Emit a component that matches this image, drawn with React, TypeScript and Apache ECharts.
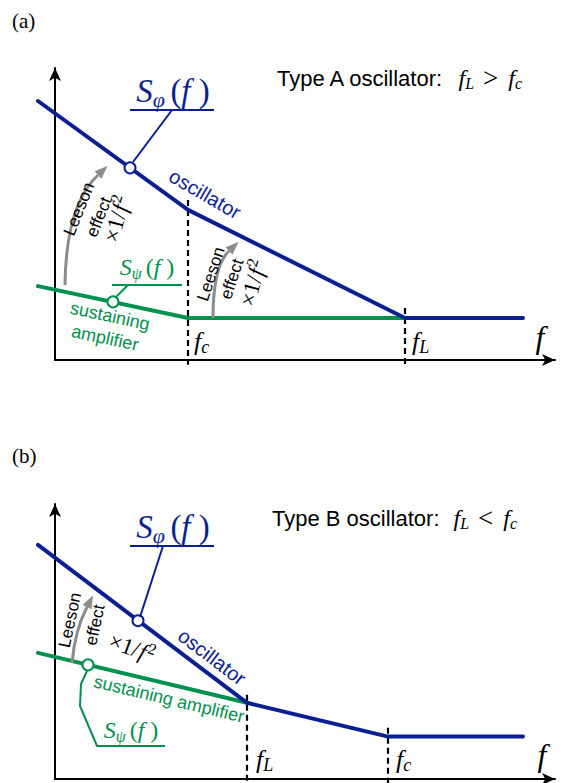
import React, { useEffect, useRef } from 'react';
import * as echarts from 'echarts';

const BLUE = '#0b1f93';
const GREEN = '#00914e';
const GRAY = '#8c8c8c';
const SANS = "'Liberation Sans', Arial, Helvetica, sans-serif";
const SERIF = "'Liberation Serif', 'Times New Roman', serif";

// Axes run over an arbitrary log-frequency (x) and log-PSD (y) scale, 0..100.
// Panel (a): Type A oscillator, f_L > f_c
const oscillatorA = [[-3.4, 88.7], [26.6, 51.4], [70, 14.4], [93.6, 14.4]];
const amplifierA = [[-3.4, 25.3], [26.6, 14.4], [70, 14.4]];
const cornersA = [26.6, 70]; // f_c, f_L
const cornerTopsA = [54.8, 17.8];
const markerOscA = [15, 65.8];
const markerAmpA = [11.6, 19.9];

// Panel (b): Type B oscillator, f_L < f_c
const oscillatorB = [[-3.4, 85.1], [38.4, 27.6], [66.6, 15.3], [93.6, 15.3]];
const amplifierB = [[-3.4, 45.8], [38.4, 27.6]];
const cornersB = [38.4, 66.6]; // f_L, f_c
const cornerTopsB = [30.5, 18.5];
const markerOscB = [16.6, 57.5];
const markerAmpB = [6.6, 41.4];

// curves start a little left of f = 0 and the corner guides dip below the f axis
const xLow = -3.4;
const yLow = -1.6;

function mathRich(size: number, color: string, drop: number) {
  const sub = Math.round(size * 0.68);
  return {
    i: { fontFamily: SERIF, fontStyle: 'italic', fontSize: size, fill: color },
    j: { fontFamily: SERIF, fontStyle: 'italic', fontSize: size, fill: color, padding: [0, 0, 0, 14] },
    r: { fontFamily: SERIF, fontSize: size, fill: color },
    g: { fontFamily: SERIF, fontSize: size + 3, fill: color, padding: [0, 10, 0, 9] },
    s: { fontFamily: SERIF, fontStyle: 'italic', fontSize: sub, fill: color, padding: [drop, 0, 0, 0] },
    n: { fontFamily: SANS, fontSize: 22, fill: '#000' },
  };
}

function txt(x: number, y: number, text: string, style: any, deg = 0, align = 'center') {
  return {
    type: 'text',
    x,
    y,
    rotation: (deg * Math.PI) / 180,
    z: 50,
    silent: true,
    style: { text, align, verticalAlign: 'middle', ...style },
  };
}

function seg(x1: number, y1: number, x2: number, y2: number, color: string, w = 2) {
  return { type: 'line', z: 40, silent: true, shape: { x1, y1, x2, y2 }, style: { stroke: color, lineWidth: w } };
}

function leesonArrow(p0: number[], cp: number[], p2: number[]) {
  const dx = p2[0] - cp[0];
  const dy = p2[1] - cp[1];
  const n = Math.hypot(dx, dy);
  const ux = dx / n;
  const uy = dy / n;
  const len = 13;
  const half = 5;
  const tip = [p2[0] + ux * len, p2[1] + uy * len];
  const l = [p2[0] - uy * half, p2[1] + ux * half];
  const r = [p2[0] + uy * half, p2[1] - ux * half];
  return [
    {
      type: 'bezierCurve',
      z: 30,
      silent: true,
      shape: { x1: p0[0], y1: p0[1], cpx1: cp[0], cpy1: cp[1], x2: p2[0], y2: p2[1] },
      style: { stroke: GRAY, lineWidth: 3, fill: 'none' },
    },
    { type: 'polygon', z: 30, silent: true, shape: { points: [tip, l, r] }, style: { fill: GRAY } },
  ];
}

const leesonStyle = { fontFamily: SANS, fontSize: 17, fill: '#000' };
const inverseSquare = (size: number) => ({
  rich: {
    r: { fontFamily: SERIF, fontSize: size, fill: '#000' },
    i: { fontFamily: SERIF, fontStyle: 'italic', fontSize: size, fill: '#000', padding: [0, 1, 0, 1] },
    p: { fontFamily: SERIF, fontSize: Math.round(size * 0.68), fill: '#000', padding: [0, 0, 12, 0] },
  },
});
const INV = '{r|×1/}{i|f}{p|2}';
const S_PHI = '{i|S}{s|φ }{r|(}{i|f }{r|)}';
const S_PSI = '{i|S}{s|ψ }{r|(}{i|f }{r|)}';

function buildGraphics() {
  const g: any[] = [];
  // ---- panel (a)
  g.push(txt(12, 21, '(a)', { fontFamily: SERIF, fontSize: 21, fill: '#000' }, 0, 'left'));
  g.push(txt(277, 78, '{n|Type A oscillator:}{j|f}{s|L}{g|>}{i|f}{s|c}', { rich: mathRich(24, '#000', 11) }, 0, 'left'));
  g.push(txt(173, 91, S_PHI, { rich: mathRich(33, BLUE, 17) }));
  g.push(seg(130, 110, 214, 110, BLUE));
  g.push(seg(172, 110, 133, 162, BLUE));
  g.push(txt(205, 194, 'oscillator', { fontFamily: SANS, fontSize: 20, fill: BLUE }, -30));
  g.push(...leesonArrow([65, 285], [66, 205], [98, 175]));
  g.push(txt(79, 209, 'Leeson', leesonStyle, 68));
  g.push(txt(99, 217, 'effect', leesonStyle, 68));
  g.push(txt(117, 219, INV, inverseSquare(23), 75));
  g.push(txt(147, 267, S_PSI, { rich: mathRich(24, GREEN, 12) }));
  g.push(seg(112, 285, 182, 285, GREEN));
  g.push(seg(128, 285, 116, 297, GREEN));
  g.push(txt(110, 316, 'sustaining', { fontFamily: SANS, fontSize: 18, fill: GREEN }, -12));
  g.push(txt(105, 338, 'amplifier', { fontFamily: SANS, fontSize: 18, fill: GREEN }, -12));
  g.push(...leesonArrow([213, 318], [213, 266], [229, 251]));
  g.push(txt(211, 274, 'Leeson', leesonStyle, 72));
  g.push(txt(232, 279, 'effect', leesonStyle, 72));
  g.push(txt(253, 283, INV, inverseSquare(23), 75));
  g.push(txt(194, 341, '{i|f}{s|c}', { rich: mathRich(26, '#000', 12) }, 0, 'left'));
  g.push(txt(412, 341, '{i|f}{s|L}', { rich: mathRich(26, '#000', 12) }, 0, 'left'));
  g.push(txt(540, 337, 'f', { fontFamily: SERIF, fontStyle: 'italic', fontSize: 32, fill: '#000' }));

  // ---- panel (b)
  g.push(txt(12, 456, '(b)', { fontFamily: SERIF, fontSize: 21, fill: '#000' }, 0, 'left'));
  g.push(txt(272, 518, '{n|Type B oscillator:}{j|f}{s|L}{g|<}{i|f}{s|c}', { rich: mathRich(24, '#000', 11) }, 0, 'left'));
  g.push(txt(173, 527, S_PHI, { rich: mathRich(33, BLUE, 17) }));
  g.push(seg(130, 546, 214, 546, BLUE));
  g.push(seg(163, 546, 140, 617, BLUE));
  g.push(txt(212, 657, 'oscillator', { fontFamily: SANS, fontSize: 20, fill: BLUE }, -37));
  g.push(...leesonArrow([72, 663], [75, 630], [87, 607]));
  g.push(txt(70, 620, 'Leeson', leesonStyle, 78));
  g.push(txt(95, 625, 'effect', leesonStyle, 78));
  g.push(txt(132, 648, INV, inverseSquare(23), -20));
  g.push(txt(169, 699, 'sustaining amplifier', { fontFamily: SANS, fontSize: 18, fill: GREEN }, -13.5));
  g.push({
    type: 'polyline',
    z: 40,
    silent: true,
    shape: { points: [[87, 671], [81, 684], [80, 706], [97, 746], [165, 746]] },
    style: { stroke: GREEN, lineWidth: 2, fill: 'none' },
  });
  g.push(txt(131, 730, S_PSI, { rich: mathRich(24, GREEN, 12) }));
  g.push(txt(256, 759, '{i|f}{s|L}', { rich: mathRich(26, '#000', 12) }, 0, 'left'));
  g.push(txt(396, 759, '{i|f}{s|c}', { rich: mathRich(26, '#000', 12) }, 0, 'left'));
  g.push(txt(542, 755, 'f', { fontFamily: SERIF, fontStyle: 'italic', fontSize: 32, fill: '#000' }));
  return g;
}

function curve(g: number, data: number[][], color: string, z = 3) {
  return {
    type: 'line',
    xAxisIndex: g,
    yAxisIndex: g,
    data,
    symbol: 'none',
    silent: true,
    z,
    lineStyle: { color, width: 4, cap: 'round', join: 'round' },
  };
}

function dashed(g: number, x: number, top: number) {
  return {
    type: 'line',
    xAxisIndex: g,
    yAxisIndex: g,
    data: [[x, top], [x, yLow]],
    symbol: 'none',
    silent: true,
    z: 2,
    lineStyle: { color: '#000', width: 2.2, type: [6, 4] },
  };
}

function marker(g: number, pt: number[], color: string) {
  return {
    type: 'scatter',
    xAxisIndex: g,
    yAxisIndex: g,
    data: [pt],
    symbol: 'circle',
    symbolSize: 11,
    silent: true,
    z: 6,
    itemStyle: { color: '#fff', borderColor: color, borderWidth: 2, opacity: 1 },
  };
}

// visible axes with arrow heads (grids 0 and 1)
function arrowAxis(i: number) {
  return {
    type: 'value',
    gridIndex: i,
    min: 0,
    max: 100,
    axisLine: {
      show: true,
      onZero: false,
      symbol: ['none', 'arrow'],
      symbolSize: [9, 13],
      lineStyle: { color: '#000', width: 2 },
    },
    axisTick: { show: false },
    axisLabel: { show: false },
    splitLine: { show: false },
  };
}

// hidden axes for the curves (grids 2 and 3), same scale, wider extent
function dataAxis(i: number, low: number) {
  return {
    type: 'value',
    gridIndex: i,
    min: low,
    max: 100,
    show: false,
    splitLine: { show: false },
  };
}

export default function App() {
  const ref = useRef<HTMLDivElement>(null);
  useEffect(() => {
    if (!ref.current) return;
    const chart = echarts.init(ref.current, undefined, { renderer: 'svg' });
    const pxX = 5; // pixels per x unit
    const pxYA = 2.92;
    const pxYB = 2.75;
    chart.setOption({
      animation: false,
      backgroundColor: '#fff',
      grid: [
        { left: 55, top: 68, width: 100 * pxX, height: 100 * pxYA },
        { left: 55, top: 504, width: 100 * pxX, height: 100 * pxYB },
        { left: 55 + xLow * pxX, top: 68, width: (100 - xLow) * pxX, height: (100 - yLow) * pxYA },
        { left: 55 + xLow * pxX, top: 504, width: (100 - xLow) * pxX, height: (100 - yLow) * pxYB },
      ],
      xAxis: [arrowAxis(0), arrowAxis(1), dataAxis(2, xLow), dataAxis(3, xLow)],
      yAxis: [arrowAxis(0), arrowAxis(1), dataAxis(2, yLow), dataAxis(3, yLow)],
      series: [
        dashed(2, cornersA[0], cornerTopsA[0]),
        dashed(2, cornersA[1], cornerTopsA[1]),
        curve(2, amplifierA, GREEN, 3),
        curve(2, oscillatorA, BLUE, 4),
        marker(2, markerOscA, BLUE),
        marker(2, markerAmpA, GREEN),
        dashed(3, cornersB[0], cornerTopsB[0]),
        dashed(3, cornersB[1], cornerTopsB[1]),
        curve(3, amplifierB, GREEN, 3),
        curve(3, oscillatorB, BLUE, 4),
        marker(3, markerOscB, BLUE),
        marker(3, markerAmpB, GREEN),
      ],
      graphic: buildGraphics(),
    });
    return () => chart.dispose();
  }, []);
  return <div ref={ref} style={{ position: 'fixed', left: 0, top: 0, width: 562, height: 783 }} />;
}
